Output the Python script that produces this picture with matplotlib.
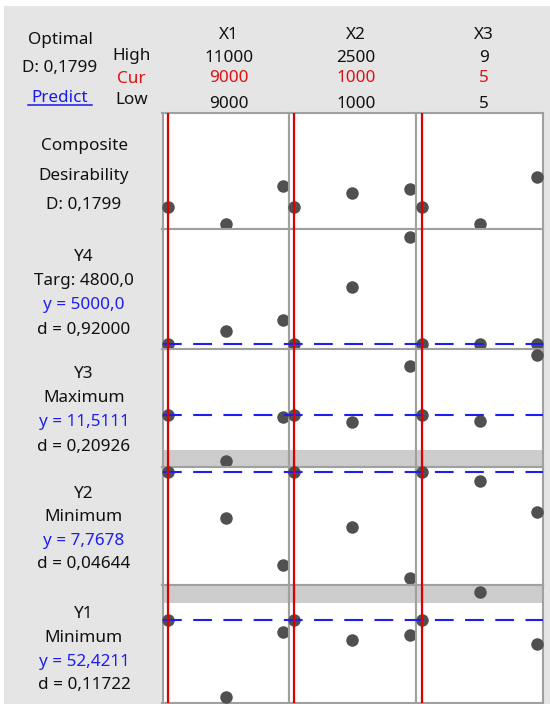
import matplotlib.pyplot as plt
from matplotlib.lines import Line2D
from matplotlib.patches import Rectangle

plt.rcParams['font.family'] = ['Noto Sans', 'DejaVu Sans']

# -----------------------------------------------------------------------
# Data
# -----------------------------------------------------------------------
factors = ['X1', 'X2', 'X3']
x_high = [11000, 2500, 9]
x_cur = [9000, 1000, 5]
x_low = [9000, 1000, 5]
x_levels = [[9000, 10000, 11000], [1000, 1750, 2500], [5, 7, 9]]

optimal_D = '0,1799'

# response value at low / mid / high of each factor (rows top to bottom)
comp_vals = [[0.1799, 0.029, 0.362], [0.1799, 0.298, 0.333], [0.1799, 0.029, 0.440]]
y4_vals = [[5000, 5320, 5590], [5000, 6410, 7660], [5000, 5000, 5000]]
y3_vals = [[11.5111, 6.94, 11.34], [11.5111, 10.78, 16.44], [11.5111, 10.94, 17.51]]
y2_vals = [[7.7678, 5.47, 3.10], [7.7678, 5.02, 2.44], [7.7678, 7.30, 5.74]]
y1_vals = [[52.4211, 44.72, 51.23], [52.4211, 50.46, 50.88], [52.4211, 55.26, 50.04]]
row_vals = [comp_vals, y4_vals, y3_vals, y2_vals, y1_vals]

row_ylim = [(-0.015, 1.0), (4855, 7855), (6.36, 18.08), (2.10, 8.03), (44.12, 55.92)]
y_cur = [None, 5000.0, 11.5111, 7.7678, 52.4211]
# grey band = region outside the response bound (lo, hi)
row_band = [None, None, (6.36, 8.01), None, (54.09, 55.92)]

row_labels = [
    ['Composite', 'Desirability', 'D: 0,1799'],
    ['Y4', 'Targ: 4800,0', 'y = 5000,0', 'd = 0,92000'],
    ['Y3', 'Maximum', 'y = 11,5111', 'd = 0,20926'],
    ['Y2', 'Minimum', 'y = 7,7678', 'd = 0,04644'],
    ['Y1', 'Minimum', 'y = 52,4211', 'd = 0,11722'],
]

# -----------------------------------------------------------------------
# Layout (pixels)
# -----------------------------------------------------------------------
W, H = 550, 704
col_edges = [162.5, 288.6, 416.0, 543.0]
row_edges = [112.7, 229.3, 349.3, 466.5, 585.0, 703.0]
label_start = [37.3, 31.7, 28.4, 31.2, 33.0]
label_step = [29.7, 24.2, 24.3, 23.5, 23.8]

BG = '#e5e5e5'
FRAME = '#a0a0a0'
DOT = '#505050'
RED = '#dc0000'
BLUE = '#1e1ef0'
FS = 12.3


def fx(px):
    return px / W


def fy(py):
    return 1 - py / H


def rect(x0, x1, y0, y1):
    return [fx(x0), fy(y1), fx(x1) - fx(x0), fy(y0) - fy(y1)]


def xlim_for(j):
    span = x_levels[j][-1] - x_levels[j][0]
    return x_levels[j][0] - 0.05 * span, x_levels[j][-1] + 0.05 * span


fig = plt.figure(figsize=(W / 100, H / 100), dpi=100, facecolor='white')
fig.patches.append(Rectangle((fx(4), 0), 1, fy(6), transform=fig.transFigure,
                             facecolor=BG, edgecolor='none', zorder=-5))

# panels
for i in range(5):
    for j in range(3):
        ax = fig.add_axes(rect(col_edges[j], col_edges[j + 1], row_edges[i], row_edges[i + 1]))
        ax.set_facecolor('white')
        ax.set_xlim(*xlim_for(j))
        ax.set_ylim(*row_ylim[i])
        ax.set_xticks([])
        ax.set_yticks([])
        for s in ax.spines.values():
            s.set_color(FRAME)
            s.set_linewidth(1.5)
        if row_band[i] is not None:
            ax.axhspan(*row_band[i], color='#cccccc', lw=0, zorder=1)
        ax.plot(x_levels[j], row_vals[i][j], 'o', color=DOT, ms=9, mew=0,
                clip_on=False, zorder=3)

# current predicted response (blue dashed), one line across each row
for i in range(5):
    if y_cur[i] is None:
        continue
    ov = fig.add_axes(rect(col_edges[0], col_edges[3], row_edges[i], row_edges[i + 1]))
    ov.set_ylim(*row_ylim[i])
    ov.set_xlim(0, 1)
    ov.axis('off')
    ov.axhline(y_cur[i], color=BLUE, lw=1.5, dashes=(9, 5.5))

# current factor settings (red), full height of each column
for j in range(3):
    ov = fig.add_axes(rect(col_edges[j], col_edges[j + 1], row_edges[0], row_edges[-1]))
    ov.set_xlim(*xlim_for(j))
    ov.axis('off')
    ov.axvline(x_cur[j], color=RED, lw=1.6)

# header
hdr = dict(ha='center', va='baseline', fontsize=FS, color='#111111')
fig.text(fx(60), fy(44), 'Optimal', **hdr)
fig.text(fx(60), fy(71.5), 'D: ' + optimal_D, **hdr)
fig.text(fx(60), fy(102), 'Predict', **{**hdr, 'color': '#1a1aee'})
fig.add_artist(Line2D([fx(28), fx(92)], [fy(105), fy(105)], color='#1a1aee', lw=1.1))
fig.text(fx(132), fy(60.5), 'High', **hdr)
fig.text(fx(131), fy(83), 'Cur', **{**hdr, 'color': '#dd1111'})
fig.text(fx(132), fy(104), 'Low', **hdr)

col_centres = [229, 356, 484]
for j in range(3):
    cx = fx(col_centres[j])
    fig.text(cx, fy(38.6), factors[j], **hdr)
    fig.text(cx, fy(62.5), str(x_high[j]), **hdr)
    fig.text(cx, fy(82.5), str(x_cur[j]), **{**hdr, 'color': '#dd1111'})
    fig.text(cx, fy(108), str(x_low[j]), **hdr)

# row labels
for i in range(5):
    for k, line in enumerate(row_labels[i]):
        col = BLUE if line.startswith('y =') else '#111111'
        fig.text(fx(84), fy(row_edges[i] + label_start[i] + k * label_step[i]), line,
                 ha='center', va='baseline', fontsize=FS, color=col)

fig.savefig('out.png', dpi=100, facecolor='white')
